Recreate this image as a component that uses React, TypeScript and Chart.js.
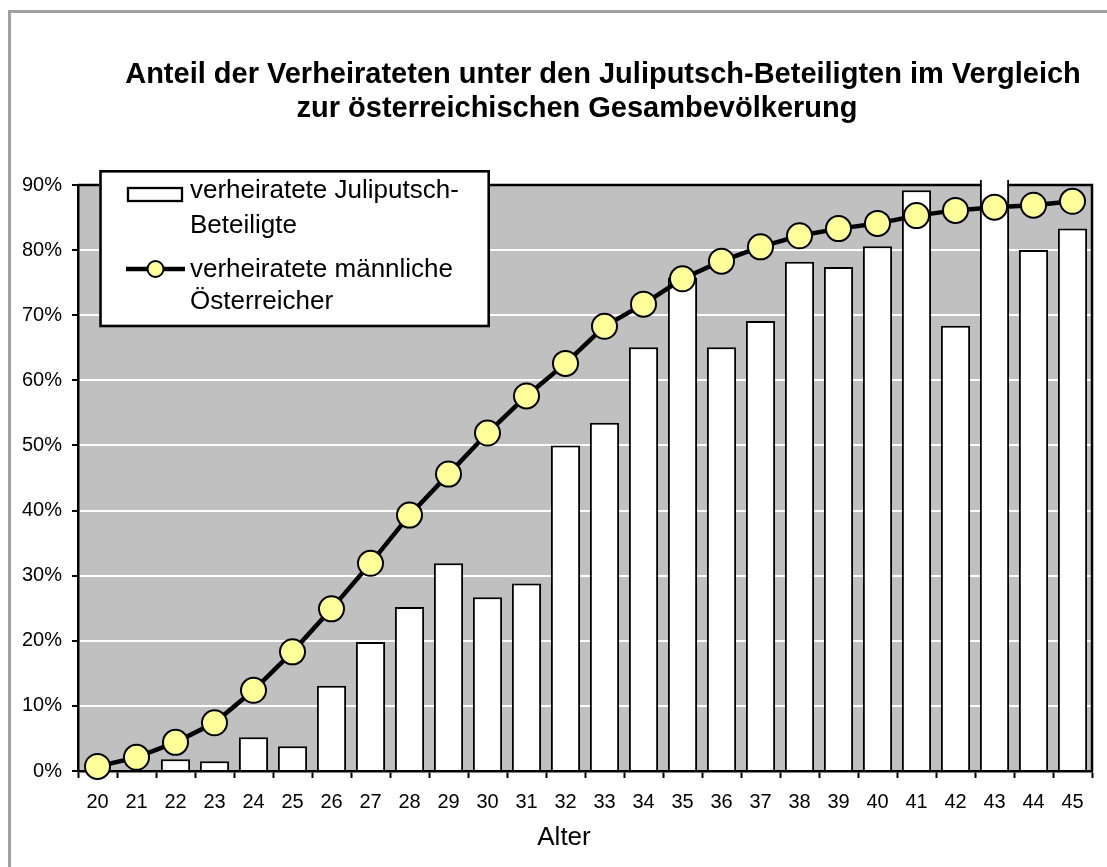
import React, { useEffect, useRef } from 'react';
import { Chart, registerables } from 'chart.js';

Chart.register(...registerables);

const ages = ['20', '21', '22', '23', '24', '25', '26', '27', '28', '29', '30', '31', '32', '33', '34', '35', '36', '37', '38', '39', '40', '41', '42', '43', '44', '45'];
const juliputschMarried = [0, 0, 1.8, 1.5, 5.2, 3.8, 13.1, 19.8, 25.2, 31.9, 26.7, 28.8, 50.0, 53.5, 65.1, 75.8, 65.1, 69.1, 78.2, 77.4, 80.6, 89.2, 68.4, 100, 80.0, 83.3];
const austrianMenMarried = [0.7, 2.1, 4.4, 7.4, 12.4, 18.3, 24.9, 31.9, 39.3, 45.6, 51.9, 57.6, 62.6, 68.3, 71.7, 75.6, 78.3, 80.5, 82.2, 83.3, 84.1, 85.3, 86.1, 86.6, 86.9, 87.5];
const yTicks = [0, 10, 20, 30, 40, 50, 60, 70, 80, 90];
const titleLines = ['Anteil der Verheirateten unter den Juliputsch-Beteiligten im Vergleich', 'zur österreichischen Gesambevölkerung'];
const xAxisTitle = 'Alter';
const legendBarLabel = ['verheiratete Juliputsch-', 'Beteiligte'];
const legendLineLabel = ['verheiratete männliche', 'Österreicher'];

const FONT = '"Liberation Sans", Arial, sans-serif';

const decorPlugin = {
  id: 'decor',
  beforeDraw(chart: any) {
    const { ctx, chartArea: a, width, height } = chart;
    ctx.save();
    ctx.fillStyle = '#ffffff';
    ctx.fillRect(0, 0, width, height);
    ctx.fillStyle = '#a0a0a0';
    ctx.fillRect(8, 10, 3, height);
    ctx.fillRect(8, 10, width, 3);
    ctx.fillStyle = '#c0c0c0';
    ctx.fillRect(a.left, a.top, a.right - a.left, a.bottom - a.top);
    ctx.fillStyle = '#000';
    ctx.textAlign = 'center';
    ctx.textBaseline = 'middle';
    ctx.font = `bold 29px ${FONT}`;
    ctx.fillText(titleLines[0], 603, 75);
    ctx.fillText(titleLines[1], 577, 109);
    ctx.font = `26px ${FONT}`;
    ctx.fillText(xAxisTitle, 564, 838);
    ctx.restore();
  },
  beforeDatasetsDraw(chart: any) {
    const { ctx, chartArea: a } = chart;
    ctx.save();
    ctx.strokeStyle = '#000';
    ctx.lineWidth = 2.5;
    ctx.beginPath();
    ctx.moveTo(a.left, a.top);
    ctx.lineTo(a.right, a.top);
    ctx.lineTo(a.right, a.bottom);
    ctx.stroke();
    ctx.restore();
  },
  afterDraw(chart: any) {
    const { ctx } = chart;
    ctx.save();
    // legend box
    ctx.fillStyle = '#ffffff';
    ctx.fillRect(99, 170, 391, 157);
    ctx.strokeStyle = '#000';
    ctx.lineWidth = 2.6;
    ctx.strokeRect(100.5, 171.3, 388.2, 154.7);
    // bar sample
    ctx.lineWidth = 2.3;
    ctx.fillRect(127, 187, 56, 15);
    ctx.strokeRect(128, 188, 54, 13);
    // line sample
    ctx.lineWidth = 4.5;
    ctx.beginPath();
    ctx.moveTo(126, 269);
    ctx.lineTo(185, 269);
    ctx.stroke();
    ctx.beginPath();
    ctx.arc(155.5, 269, 8, 0, Math.PI * 2);
    ctx.fillStyle = '#ffff99';
    ctx.fill();
    ctx.lineWidth = 2;
    ctx.stroke();
    // texts
    ctx.fillStyle = '#000';
    ctx.font = `26px ${FONT}`;
    ctx.textAlign = 'left';
    ctx.textBaseline = 'alphabetic';
    ctx.fillText(legendBarLabel[0], 190, 198);
    ctx.fillText(legendBarLabel[1], 190, 233);
    ctx.fillText(legendLineLabel[0], 190, 277);
    ctx.fillText(legendLineLabel[1], 190, 309);
    ctx.restore();
  },
};

export default function App() {
  const canvasRef = useRef<HTMLCanvasElement | null>(null);

  useEffect(() => {
    if (!canvasRef.current) return;
    const chart = new Chart(canvasRef.current, {
      type: 'bar',
      data: {
        labels: ages,
        datasets: [
          {
            type: 'line',
            label: legendLineLabel.join(' '),
            data: austrianMenMarried,
            borderColor: '#000',
            borderWidth: 4.5,
            pointRadius: 12.5,
            pointBackgroundColor: '#ffff99',
            pointBorderColor: '#000',
            pointBorderWidth: 2,
            tension: 0,
            fill: false,
            clip: false as any,
            order: 0,
          } as any,
          {
            type: 'bar',
            label: legendBarLabel.join(''),
            data: juliputschMarried,
            backgroundColor: '#ffffff',
            borderColor: '#000',
            borderWidth: 2,
            barPercentage: 0.75,
            categoryPercentage: 1,
            clip: { left: 0, top: 5, right: 0, bottom: 0 } as any,
            order: 1,
          } as any,
        ],
      },
      options: {
        responsive: false,
        animation: false,
        devicePixelRatio: 1,
        events: [],
        layout: { padding: { top: 185, right: 15, left: 0, bottom: 0 } },
        plugins: {
          legend: { display: false },
          title: { display: false },
          tooltip: { enabled: false },
        },
        scales: {
          x: {
            offset: true,
            grid: { offset: true, drawOnChartArea: false, tickColor: '#000', tickLength: 7, tickWidth: 2 },
            border: { color: '#000', width: 2.5 },
            ticks: { font: { size: 20, family: FONT }, color: '#000', padding: 12, maxRotation: 0, autoSkip: false },
            afterFit: (s: any) => { s.height = 96; },
          },
          y: {
            min: 0,
            max: 90,
            afterBuildTicks: (s: any) => { s.ticks = yTicks.map((v) => ({ value: v })); },
            ticks: { font: { size: 20, family: FONT }, color: '#000', padding: 10, callback: (v: any) => `${v}%` },
            grid: { color: '#ffffff', lineWidth: 2, tickColor: '#000', tickLength: 6, tickWidth: 2 },
            border: { color: '#000', width: 2.5 },
            afterFit: (s: any) => { s.width = 78; },
          },
        },
      } as any,
      plugins: [decorPlugin],
    });
    return () => chart.destroy();
  }, []);

  return (
    <div style={{ position: 'absolute', left: 0, top: 0, width: 1107, height: 867 }}>
      <canvas ref={canvasRef} width={1107} height={867} />
    </div>
  );
}
